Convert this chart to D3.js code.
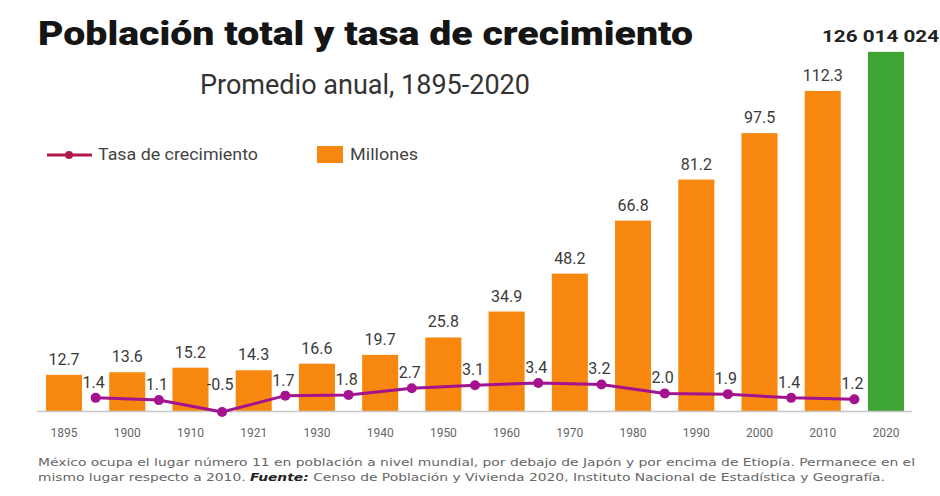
<!DOCTYPE html>
<meta charset="utf-8">
<style>
  body { margin: 0; background: #fff; }
  svg { display: block; }
  .title { font-family: Roboto, "DejaVu Sans", sans-serif; font-weight: 900; }
  .cond { font-family: Roboto, "Noto Sans", sans-serif; }
  .note { font-family: "DejaVu Sans", "Noto Sans", sans-serif; }
</style>
<script src="https://d3js.org/d3.v7.min.js"></script>
<body>
<script>

const width = 940;
const height = 496;

const years = ["1895", "1900", "1910", "1921", "1930", "1940", "1950", "1960", "1970", "1980", "1990", "2000", "2010", "2020"];
const millones = [12.7, 13.6, 15.2, 14.3, 16.6, 19.7, 25.8, 34.9, 48.2, 66.8, 81.2, 97.5, 112.3, 126.014024];
const barLabels = ["12.7", "13.6", "15.2", "14.3", "16.6", "19.7", "25.8", "34.9", "48.2", "66.8", "81.2", "97.5", "112.3", "126 014 024"];
const tasa = [1.4, 1.1, -0.5, 1.7, 1.8, 2.7, 3.1, 3.4, 3.2, 2.0, 1.9, 1.4, 1.2];

const orange = "#f7870f";
const green = "#3fa535";
const purple = "#a3128f";
const last = years.length - 1;

const svg = d3.select("body").append("svg")
  .attr("width", width)
  .attr("height", height);

const x = d3.scaleBand()
  .domain(years)
  .range([30, 920])
  .paddingInner(0.43)
  .paddingOuter(0.253);

const y = d3.scaleLinear()
  .domain([0, 130])
  .range([411, 40.5]);

const yRate = d3.scaleLinear()
  .domain([-0.5, 3.4])
  .range([412, 383]);

// title
svg.append("text")
  .attr("class", "title")
  .attr("x", 38).attr("y", 45)
  .attr("font-size", 33)
  .attr("textLength", 655).attr("lengthAdjust", "spacingAndGlyphs")
  .attr("fill", "#151515")
  .text("Población total y tasa de crecimiento");

svg.append("text")
  .attr("class", "title")
  .attr("x", 200).attr("y", 94)
  .attr("font-size", 27)
  .attr("textLength", 330).attr("lengthAdjust", "spacingAndGlyphs")
  .attr("fill", "#333")
  .style("font-weight", 400)
  .text("Promedio anual, 1895-2020");

// legend
const leg = svg.append("g").attr("class", "cond");
leg.append("line")
  .attr("x1", 47).attr("x2", 92).attr("y1", 155).attr("y2", 155)
  .attr("stroke", "#b0184f").attr("stroke-width", 3);
leg.append("circle").attr("cx", 69).attr("cy", 155).attr("r", 4).attr("fill", "#b0184f");
leg.append("text").attr("x", 98).attr("y", 160).attr("font-size", 16).attr("fill", "#444")
  .attr("textLength", 160).attr("lengthAdjust", "spacingAndGlyphs")
  .text("Tasa de crecimiento");
leg.append("rect").attr("x", 317).attr("y", 146).attr("width", 26).attr("height", 17).attr("fill", orange);
leg.append("text").attr("x", 350).attr("y", 160).attr("font-size", 16).attr("fill", "#444")
  .attr("textLength", 68).attr("lengthAdjust", "spacingAndGlyphs")
  .text("Millones");

// bars
svg.append("g")
  .selectAll("rect")
  .data(millones)
  .join("rect")
  .attr("x", (d, i) => x(years[i]))
  .attr("y", d => y(d))
  .attr("width", x.bandwidth())
  .attr("height", d => y(0) - y(d))
  .attr("fill", (d, i) => i === last ? green : orange);

// baseline
svg.append("line")
  .attr("x1", 37).attr("x2", 912)
  .attr("y1", y(0) + 0.5).attr("y2", y(0) + 0.5)
  .attr("stroke", "#c8c8c8").attr("stroke-width", 1.5);

// bar labels
svg.append("g")
  .attr("class", "cond")
  .selectAll("text")
  .data(millones.slice(0, last))
  .join("text")
  .attr("x", (d, i) => x(years[i]) + x.bandwidth() / 2)
  .attr("y", d => y(d) - 10)
  .attr("text-anchor", "middle")
  .attr("font-size", 16)
  .attr("fill", "#3a3a3a")
  .text((d, i) => barLabels[i]);

svg.append("text")
  .attr("class", "cond")
  .attr("x", 822).attr("y", 42)
  .attr("font-size", 17)
  .attr("font-weight", 700)
  .attr("fill", "#222")
  .attr("textLength", 117).attr("lengthAdjust", "spacingAndGlyphs")
  .text(barLabels[last]);

// x labels
svg.append("g")
  .attr("class", "cond")
  .selectAll("text")
  .data(years)
  .join("text")
  .attr("x", d => x(d) + x.bandwidth() / 2)
  .attr("y", 437)
  .attr("text-anchor", "middle")
  .attr("font-size", 12)
  .attr("fill", "#666")
  .text(d => d);

// growth rate line
const px = i => x(years[i]) + x.bandwidth() / 2 + x.step() / 2;
const line = d3.line()
  .x((d, i) => px(i))
  .y(d => yRate(d));

svg.append("path")
  .datum(tasa)
  .attr("d", line)
  .attr("fill", "none")
  .attr("stroke", purple)
  .attr("stroke-width", 3);

svg.append("g")
  .selectAll("circle")
  .data(tasa)
  .join("circle")
  .attr("cx", (d, i) => px(i))
  .attr("cy", d => yRate(d))
  .attr("r", 5)
  .attr("fill", purple);

svg.append("g")
  .attr("class", "cond")
  .selectAll("text")
  .data(tasa)
  .join("text")
  .attr("x", (d, i) => px(i) - 2)
  .attr("y", d => Math.min(yRate(d) - 10, 390))
  .attr("text-anchor", "middle")
  .attr("font-size", 16)
  .attr("fill", "#3a3a3a")
  .text(d => d.toFixed(1));

// footnote
const note = svg.append("g").attr("class", "note").attr("font-size", 11).attr("fill", "#666");
note.append("text").attr("x", 38).attr("y", 466)
  .attr("textLength", 877).attr("lengthAdjust", "spacingAndGlyphs")
  .text("México ocupa el lugar número 11 en población a nivel mundial, por debajo de Japón y por encima de Etiopía. Permanece en el");
const n2 = note.append("text").attr("x", 38).attr("y", 481)
  .attr("textLength", 847).attr("lengthAdjust", "spacingAndGlyphs");
n2.append("tspan").text("mismo lugar respecto a 2010. ");
n2.append("tspan").attr("font-weight", 700).attr("font-style", "italic").attr("fill", "#222").text("Fuente:");
n2.append("tspan").text(" Censo de Población y Vivienda 2020, Instituto Nacional de Estadística y Geografía.");

</script>
</body>
